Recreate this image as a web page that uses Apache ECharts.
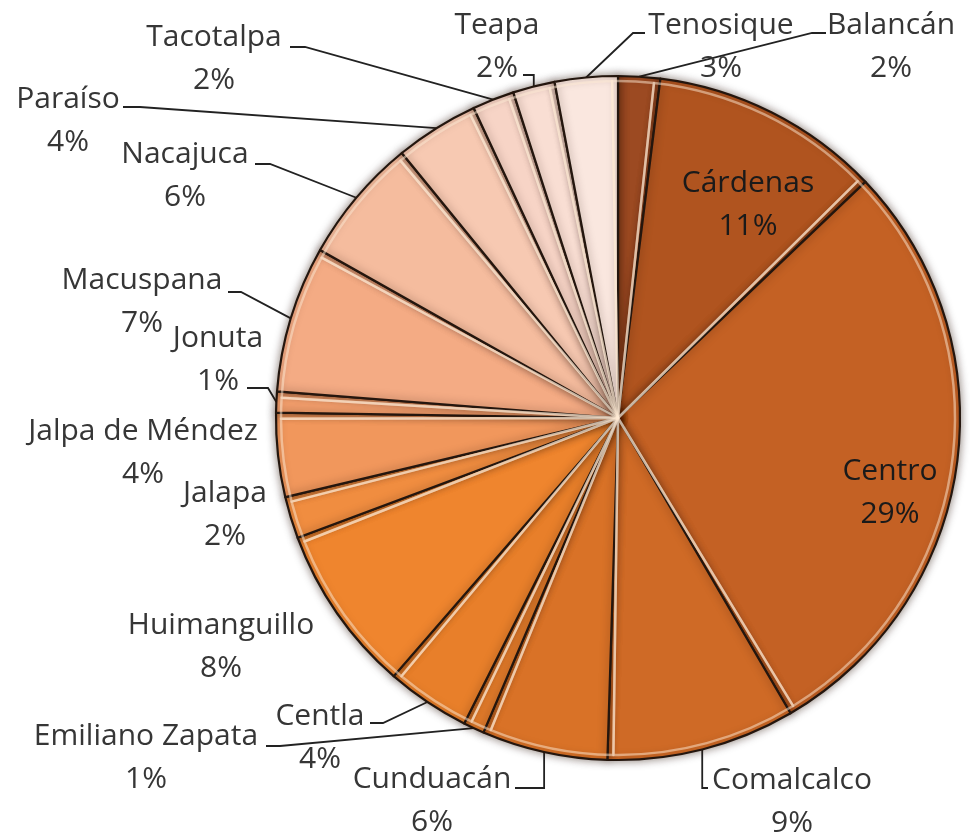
<!DOCTYPE html>
<html>
<head>
<meta charset="utf-8">
<script src="https://cdn.jsdelivr.net/npm/echarts@6/dist/echarts.min.js"></script>
<style>
html,body{margin:0;padding:0;background:#fff;}
#pie{width:970px;height:838px;}
</style>
</head>
<body>
<div id="pie"></div>
<script>
// municipios de Tabasco, en el orden de la gráfica (a partir de las 12 en punto)
var municipios = ['Balancán','Cárdenas','Centro','Comalcalco','Cunduacán','Emiliano Zapata','Centla',
	'Huimanguillo','Jalapa','Jalpa de Méndez','Jonuta','Macuspana','Nacajuca','Paraíso','Tacotalpa','Teapa','Tenosique'];
var porcentajes = [2,11,29,9,6,1,4,8,2,4,1,7,6,4,2,2,3];
var colores = ['#9c4a22','#b0541f','#c46124','#cf6a26','#d97227','#e07a2a','#e87f2a',
	'#ef852e','#f08d40','#f1975c','#f29e6c','#f4ab84','#f5bc9e','#f7c9b2','#f7d4c6','#f9ded3','#fae7df'];

// donde va cada etiqueta (centro) y donde toca su linea guia
var etiquetas = {
	'Balancán':        {x:891, y:47,  ax:826, ay:33,  ex:812},
	'Cárdenas':        {x:748, y:205, dark:true},
	'Centro':          {x:890, y:493, dark:true},
	'Comalcalco':      {x:792, y:802, ax:708, ay:788},
	'Cunduacán':       {x:432, y:801, ax:515, ay:788},
	'Emiliano Zapata': {x:146, y:758, ax:266, ay:746, ex:280},
	'Centla':          {x:320, y:738, ax:370, ay:723, ex:383},
	'Huimanguillo':    {x:221, y:647},
	'Jalapa':          {x:225, y:515},
	'Jalpa de Méndez': {x:143, y:453},
	'Jonuta':          {x:218, y:360, ax:247, ay:388, ex:268},
	'Macuspana':       {x:142, y:302, ax:228, ay:292, ex:241},
	'Nacajuca':        {x:185, y:176, ax:255, ay:164, ex:270},
	'Paraíso':         {x:68,  y:121, ax:123, ay:107, ex:140},
	'Tacotalpa':       {x:214, y:59,  ax:290, ay:47,  ex:305},
	'Teapa':           {x:497, y:47,  ax:523, ay:75},
	'Tenosique':       {x:721, y:47,  ax:645, ay:33,  ex:633}
};

var myChart = echarts.init(document.getElementById('pie'));

var datos = [], brillo = [];
for (var i = 0; i < municipios.length; i++) {
	var e = etiquetas[municipios[i]];
	datos.push({
		name: municipios[i],
		value: porcentajes[i],
		itemStyle: { color: colores[i] },
		label: { color: e.dark ? '#1a1a1a' : '#363636' },
		labelLine: { show: e.ax != null }
	});
	brillo.push({ name: municipios[i], value: porcentajes[i] });
}

var option = {
	backgroundColor: '#fff',
	animation: false,
	series: [{
		type: 'pie',
		center: [618, 418],
		radius: 342,
		startAngle: 90,
		clockwise: true,
		avoidLabelOverlap: false,
		itemStyle: {
			borderColor: '#24160e',
			borderWidth: 2.2,
			shadowBlur: 9,
			shadowColor: 'rgba(40,15,0,0.5)'
		},
		label: {
			show: true,
			position: 'outside',
			formatter: '{b}\n{c}%',
			fontFamily: 'Open Sans',
			fontSize: 30,
			lineHeight: 43,
			color: '#363636'
		},
		labelLine: {
			show: true,
			lineStyle: { color: '#222', width: 1.8 }
		},
		labelLayout: function (p) {
			var e = etiquetas[municipios[p.dataIndex]];
			var out = { x: e.x, y: e.y, align: 'center', verticalAlign: 'middle' };
			if (e.ax != null && p.labelLinePoints) {
				var p0 = p.labelLinePoints[0];
				var ex = e.ex == null ? p0[0] : e.ex;
				out.labelLinePoints = [p0, [ex, e.ay], [e.ax, e.ay]];
			}
			return out;
		},
		emphasis: { disabled: true },
		data: datos
	}, {
		// brillo del bisel junto a cada borde
		type: 'pie',
		center: [618, 418],
		radius: [0, 337],
		startAngle: 91,
		clockwise: true,
		silent: true,
		label: { show: false },
		labelLine: { show: false },
		itemStyle: {
			color: 'rgba(0,0,0,0)',
			borderColor: 'rgba(255,236,214,0.5)',
			borderWidth: 2.5
		},
		emphasis: { disabled: true },
		data: brillo
	}]
};
myChart.setOption(option);
</script>
</body>
</html>
